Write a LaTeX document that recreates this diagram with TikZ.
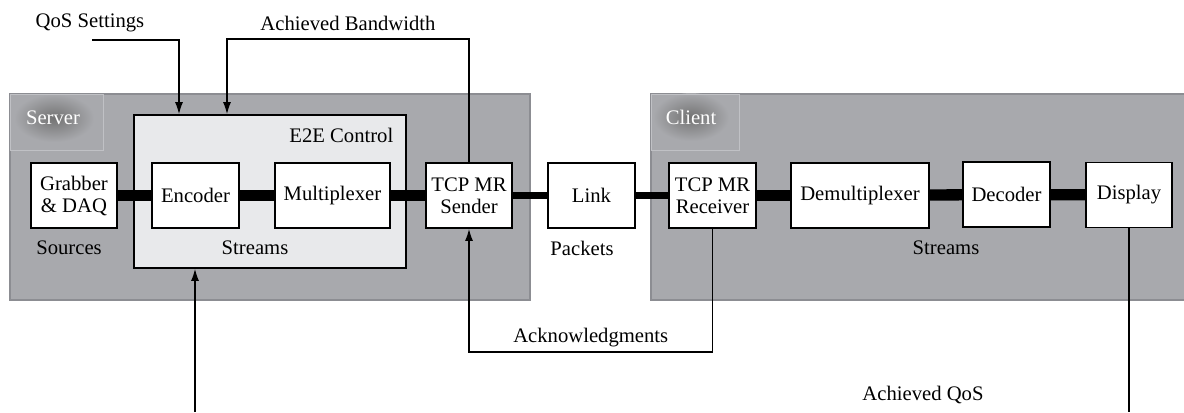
\documentclass[tikz,border=0pt]{standalone}
\usepackage{fontspec}
\setmainfont{Liberation Serif}
\usetikzlibrary{arrows.meta}
\definecolor{areagray}{RGB}{168,169,173}
\definecolor{areaedge}{RGB}{140,141,146}
\definecolor{ctrlgray}{RGB}{232,233,235}
\definecolor{tagedge}{RGB}{192,193,197}

\begin{document}
\begin{tikzpicture}[x=0.75pt, y=-0.75pt, every node/.style={font=\fontsize{15.5}{16.5}\selectfont},
  area/.style={draw=areaedge, line width=1pt, fill=areagray},
  tagbox/.style={draw=tagedge, line width=0.4pt},
  blk/.style={draw=black, line width=1.3pt, fill=white, minimum height=48.75pt,
              minimum width=65pt, align=center, inner sep=1pt},
  ctrl/.style={draw=black, line width=1.3pt, fill=ctrlgray, minimum width=204pt,
               minimum height=114.75pt},
  sbar/.style={line width=8.5pt, black},
  pbar/.style={line width=5pt, black},
  sig/.style={black, line width=1pt, -{Latex[length=9pt,width=6pt]}}]
  \useasboundingbox (0,0) rectangle (1184,412);

  % Server and client areas
  \draw[area] (10,94) rectangle (530,300);
  \draw[area] (651,94) rectangle (1190,300);
  \shade[inner color=black!55, outer color=areagray] (54,118) ellipse (40 and 24);
  \shade[inner color=black!55, outer color=areagray] (691,117) ellipse (38 and 24);
  \draw[tagbox] (10,94) rectangle (103,150);
  \draw[tagbox] (651,94) rectangle (739,150);
  \node[text=white] (srvlbl) at (53,118) {Server};
  \node[text=white] (clilbl) at (691,117) {Client};

  % E2E control block
  \node[ctrl] (e2e) at (270,191.5) {};
  \node[anchor=east] (e2elbl) at (398,135) {E2E Control};

  % Server chain
  \node[blk] (grab) at (74,195.5) {Grabber\\\& DAQ};
  \node[blk] (enc) at (195.5,195.5) {Encoder};
  \node[blk, minimum width=86.25pt] (mux) at (332.5,195.5) {Multiplexer};
  \node[blk] (snd) at (469,195.5) {TCP MR\\Sender};
  \node[blk] (link) at (591.5,195.5) {Link};

  % Client chain
  \node[blk] (rcv) at (712.5,195.5) {TCP MR\\Receiver};
  \node[blk, minimum width=103.5pt] (demux) at (860,195.5) {Demultiplexer};
  \node[blk] (dec) at (1006.5,194.5) {Decoder};
  \node[blk] (disp) at (1129,195) {Display};

  \draw[sbar] (grab) -- (enc);
  \draw[sbar] (enc) -- (mux);
  \draw[sbar] (mux) -- (snd);
  \draw[pbar] (snd) -- (link);
  \draw[pbar] (link) -- (rcv);
  \draw[sbar] (rcv) -- (demux);
  \draw[sbar] (demux) -- (dec);
  \draw[sbar] (dec) -- (disp);

  % data labels
  \node (srclbl) at (69,248) {Sources};
  \node (strlbl) at (255,248) {Streams};
  \node (pktlbl) at (582,248) {Packets};
  \node (str2lbl) at (946,248) {Streams};

  % feedback signals
  \node (qoslbl) at (90,23) {QoS Settings};
  \node (bwlbl) at (348,23) {Achieved Bandwidth};
  \coordinate (qos) at (92,40);
  \draw[sig] (qos) -| ([xshift=-68.25pt]e2e.north);
  \draw[sig] (snd.north) -- ++(0,-123) -| ([xshift=-32.25pt]e2e.north);
  \draw[sig] (rcv.south) -- ++(0,123) -| node[pos=0.25, above] {Acknowledgments} (snd.south);

  \node (aqlbl) at (923,395) {Achieved QoS};
  \coordinate (qosin) at (195,412);
  \draw[black, line width=1pt] (disp.south) -- (disp.south |- qosin);
  \draw[sig] (qosin) -- (qosin |- e2e.south);
\end{tikzpicture}
\end{document}
